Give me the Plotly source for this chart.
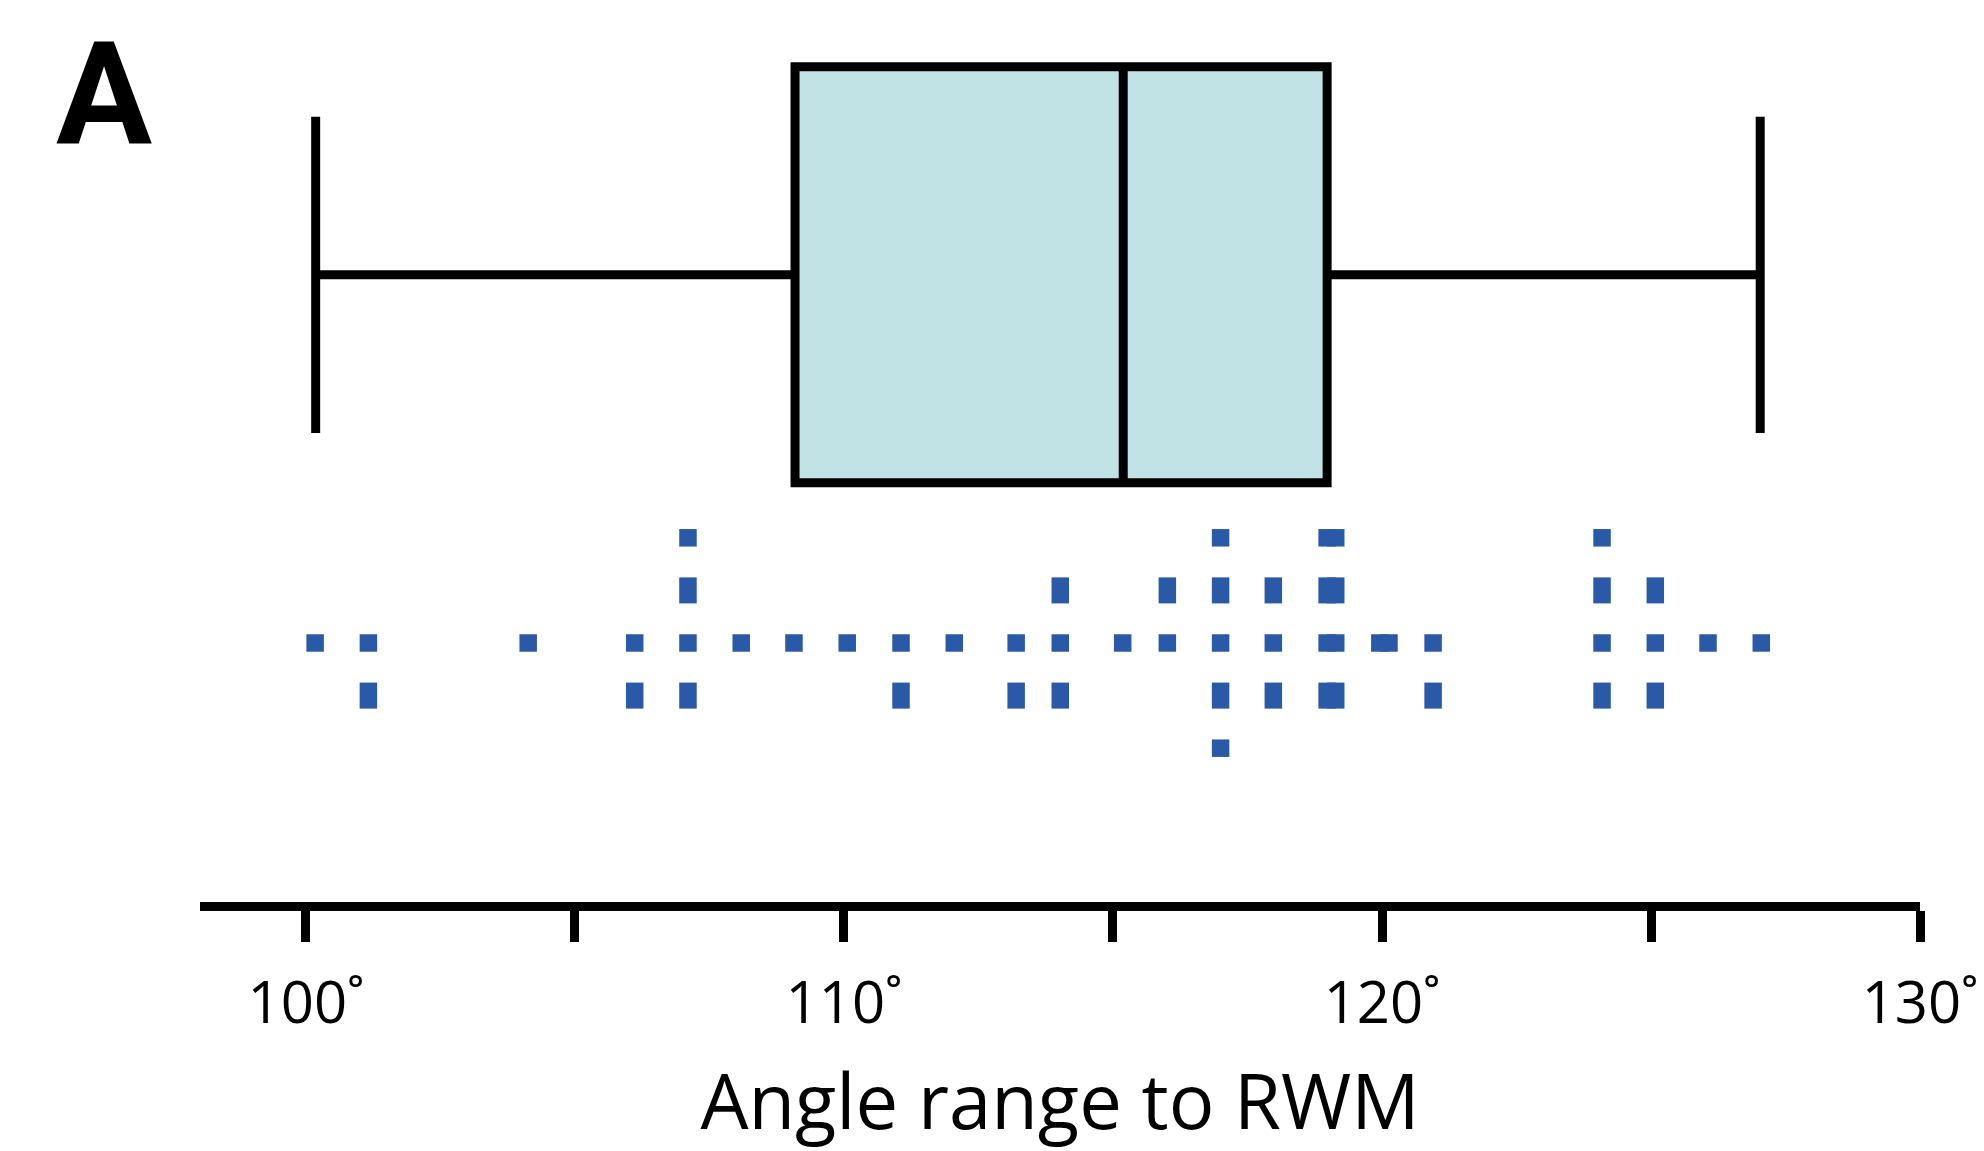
import plotly.graph_objects as go

# ---- data (degrees) ----
box_q1 = [109.09]
box_median = [115.19]
box_q3 = [118.98]
box_lower = [100.18]
box_upper = [127.03]

angle_values = [
    100.17,
    101.16, 101.16,
    104.13,
    106.11, 106.11,
    107.10, 107.10, 107.10, 107.10,
    108.09,
    109.07,
    110.06,
    111.06, 111.06,
    112.05,
    113.20, 113.20,
    114.02, 114.02, 114.02,
    115.18,
    116.01, 116.01,
    117.00, 117.00, 117.00, 117.00, 117.00,
    117.98, 117.98, 117.98,
    118.98, 118.98, 118.98, 118.98,
    119.14, 119.14, 119.14, 119.14,
    119.96,
    120.13,
    120.95, 120.95,
    124.09, 124.09, 124.09, 124.09,
    125.08, 125.08, 125.08,
    126.06,
    127.05,
]
# values whose second stacked dot sits above the centre row
first_step_up = [116.01]

tick_values = [100, 105, 110, 115, 120, 125, 130]
tick_labels = ["100˚", "", "110˚", "", "120˚", "", "130˚"]
axis_title = "Angle range to RWM"
panel_label = "A"

# ---- stacking of identical values (dot plot) ----
def stack_rows(values):
    order_default = [0, -1, 1, 2, -2, 3, -3]
    order_up = [0, 1, -1, 2, -2, 3, -3]
    counts, rows = {}, []
    for v in values:
        k = counts.get(v, 0)
        order = order_up if v in first_step_up else order_default
        rows.append(order[k])
        counts[v] = k + 1
    return rows

rows = stack_rows(angle_values)
sq_x = [v for v, r in zip(angle_values, rows) if abs(r) != 1]
sq_y = [r for r in rows if abs(r) != 1]
tall_x = [v for v, r in zip(angle_values, rows) if abs(r) == 1]
tall_y = [r for r in rows if abs(r) == 1]

DOT = "#2a5aa7"
FONT = "Open Sans"

fig = go.Figure()
fig.add_trace(go.Box(
    q1=box_q1, median=box_median, q3=box_q3,
    lowerfence=box_lower, upperfence=box_upper,
    y=[7.0], orientation="h", width=7.91, whiskerwidth=0.76,
    fillcolor="#c2e3e5", line=dict(color="black", width=9),
    boxpoints=False, showlegend=False, hoverinfo="skip",
))
fig.add_trace(go.Scatter(
    x=sq_x, y=sq_y, mode="markers",
    marker=dict(symbol="square", size=17.5, color=DOT, line=dict(width=0)),
    showlegend=False, cliponaxis=False,
))
fig.add_trace(go.Scatter(
    x=tall_x, y=tall_y, mode="markers",
    marker=dict(symbol="line-ns", size=18.6, color=DOT,
                line=dict(width=17.5, color=DOT)),
    showlegend=False, cliponaxis=False,
))

fig.update_layout(
    width=1976, height=1143, autosize=False,
    margin=dict(l=192, r=64, t=0, b=249, pad=0),
    paper_bgcolor="white", plot_bgcolor="white",
    font=dict(family=FONT, color="black"),
    xaxis=dict(
        range=[98.03, 130], showline=True, linewidth=9, linecolor="black",
        ticks="outside", ticklen=31, tickwidth=9, tickcolor="black",
        tickvals=tick_values, ticktext=tick_labels, ticklabelstandoff=11,
        tickfont=dict(family=FONT, size=58, color="black"),
        showgrid=False, zeroline=False,
        title=dict(text=axis_title, font=dict(family=FONT, size=76, color="black"),
                   standoff=53),
    ),
    yaxis=dict(range=[-4.924, 12.072], visible=False, showgrid=False, zeroline=False),
    annotations=[dict(
        text=panel_label, xref="paper", yref="paper",
        x=-0.0561, y=0.8076, xanchor="center", yanchor="bottom",
        showarrow=False, font=dict(family="Roboto", size=143, color="black", weight="bold"),
    )],
)

fig.write_html("out.html")
